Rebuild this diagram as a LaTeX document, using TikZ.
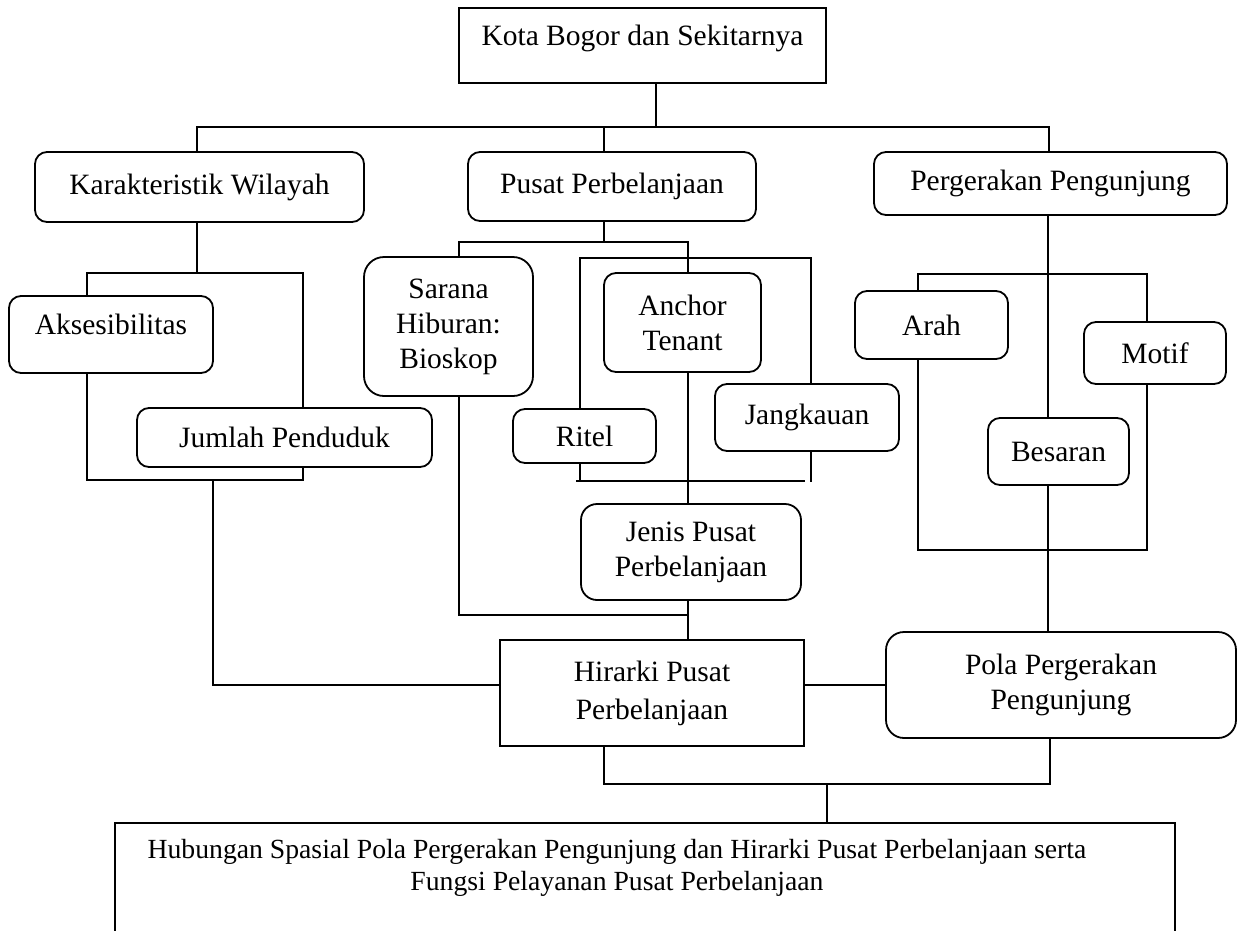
\documentclass[tikz,border=0pt]{standalone}
\usepackage{fontspec}
\setmainfont{Liberation Serif}
\usetikzlibrary{backgrounds}
\begin{document}
\begin{tikzpicture}[x=1pt,y=-1pt,
  every node/.style={font=\fontsize{29.5}{35}\selectfont, inner sep=0pt},
  rbox/.style={draw, line width=1.8pt, fill=white, rounded corners=12pt, align=center},
  sbox/.style={draw, line width=1.8pt, fill=white, align=center},
  conn/.style={line width=1.8pt},
  wh/.style 2 args={minimum width=#1, minimum height=#2},
  hi/.style={text height=10pt, text depth=10pt}]
\useasboundingbox (0,0) rectangle (1243,930);

% boxes
\node[sbox, wh={367pt}{75pt}, hi] (kota) at (642.5,45.5) {Kota Bogor dan Sekitarnya};
\node[rbox, wh={329pt}{70pt}] (kar) at (199.5,187) {Karakteristik Wilayah};
\node[rbox, wh={288pt}{69pt}] (pusat) at (612,186.5) {Pusat Perbelanjaan};
\node[rbox, wh={353pt}{63pt}] (perg) at (1050.5,183.5) {Pergerakan Pengunjung};
\node[rbox, wh={204pt}{77pt}, hi] (aks) at (111,334.5) {Aksesibilitas};
\node[rbox, wh={295pt}{59pt}] (jml) at (284.5,437.5) {Jumlah Penduduk};
\node[rbox, rounded corners=20pt, wh={169pt}{139pt}] (sarana) at (448.5,326.5) {Sarana\\Hiburan:\\Bioskop};
\node[rbox, wh={157pt}{99pt}] (anchor) at (682.5,322.5) {Anchor\\Tenant};
\node[rbox, wh={143pt}{54pt}] (ritel) at (584.5,436) {Ritel};
\node[rbox, wh={184pt}{67pt}] (jangk) at (807,417.5) {Jangkauan};
\node[rbox, rounded corners=16pt, wh={220pt}{96pt}] (jenis) at (691,552) {Jenis Pusat\\Perbelanjaan};
\node[rbox, wh={153pt}{68pt}] (arah) at (931.5,325) {Arah};
\node[rbox, wh={142pt}{62pt}] (motif) at (1155,353) {Motif};
\node[rbox, wh={141pt}{67pt}] (besaran) at (1058.5,451.5) {Besaran};
\node[sbox, wh={304pt}{106pt}] (hirarki) at (652,693) {Hirarki Pusat\\[3pt]Perbelanjaan};
\node[rbox, rounded corners=18pt, wh={350pt}{106pt}] (pola) at (1061,685) {Pola Pergerakan\\Pengunjung};
\node[sbox, wh={1060pt}{130pt}, anchor=north] (hub) at (645,822) {};
\node[align=center, font=\fontsize{27.7}{32}\selectfont] (hubtxt) at (617,868)
  {Hubungan Spasial Pola Pergerakan Pengunjung dan Hirarki Pusat Perbelanjaan serta\\Fungsi Pelayanan Pusat Perbelanjaan};

% connector coordinates
\coordinate (b1L) at (197,127);
\coordinate (b1R) at (1049,127);
\coordinate (b1P) at (604,127);
\coordinate (b1K) at (656,127);
\coordinate (k1) at (197,273);
\coordinate (k1L) at (87,273);
\coordinate (k1R) at (303,273);
\coordinate (k2L) at (87,480);
\coordinate (k2R) at (303,480);
\coordinate (k3) at (213,480);
\coordinate (k4) at (213,685);
\coordinate (p1) at (604,242);
\coordinate (p1L) at (459,242);
\coordinate (p1R) at (688,242);
\coordinate (p2L) at (580,258);
\coordinate (p2R) at (811,258);
\coordinate (p3a) at (576,481);
\coordinate (p3b) at (805,481);
\coordinate (p3L) at (580,481);
\coordinate (p3R) at (811,482);
\coordinate (p4L) at (459,615);
\coordinate (p4R) at (688,615);
\coordinate (r1) at (1048,274);
\coordinate (r1L) at (918,274);
\coordinate (r1R) at (1147,274);
\coordinate (r2L) at (918,550);
\coordinate (r2R) at (1147,550);
\coordinate (h1L) at (604,784);
\coordinate (h1R) at (1050,784);
\coordinate (h2) at (827,784);

\begin{pgfonlayer}{background}
% top level
\draw[conn] (b1K |- kota.south) -- (b1K);
\draw[conn] (b1L |- kar.north) -- (b1L) -- (b1R) -- (b1R |- perg.north);
\draw[conn] (b1P) -- (b1P |- pusat.north);
% Karakteristik Wilayah
\draw[conn] (k1 |- kar.south) -- (k1);
\draw[conn] (k1L |- aks.north) -- (k1L) -- (k1R) -- (k2R) -- (k2L) -- (k2L |- aks.south);
\draw[conn] (k3) -- (k4) -- (k4 -| hirarki.west);
% Pusat Perbelanjaan
\draw[conn] (p1 |- pusat.south) -- (p1);
\draw[conn] (p1L |- sarana.north) -- (p1L) -- (p1R) -- (p1R |- anchor.north);
\draw[conn] (p2L |- ritel.north) -- (p2L) -- (p2R) -- (p2R |- jangk.north);
\draw[conn] (p3a) -- (p3b);
\draw[conn] (p3L |- ritel.south) -- (p3L);
\draw[conn] (p3R |- jangk.south) -- (p3R);
\draw[conn] (p1R |- anchor.south) -- (p1R |- jenis.north);
\draw[conn] (p1L |- sarana.south) -- (p4L) -- (p4R);
\draw[conn] (p1R |- jenis.south) -- (p1R |- hirarki.north);
% Pergerakan Pengunjung
\draw[conn] (r1 |- perg.south) -- (r1 |- besaran.north);
\draw[conn] (r1L |- arah.north) -- (r1L) -- (r1R) -- (r1R |- motif.north);
\draw[conn] (r1L |- arah.south) -- (r2L) -- (r2R) -- (r1R |- motif.south);
\draw[conn] (r1 |- besaran.south) -- (r1 |- pola.north);
% lower part
\draw[conn] (k4 -| hirarki.east) -- (k4 -| pola.west);
\draw[conn] (h1L |- hirarki.south) -- (h1L) -- (h1R) -- (h1R |- pola.south);
\draw[conn] (h2) -- (h2 |- hub.north);
\end{pgfonlayer}
\end{tikzpicture}
\end{document}
